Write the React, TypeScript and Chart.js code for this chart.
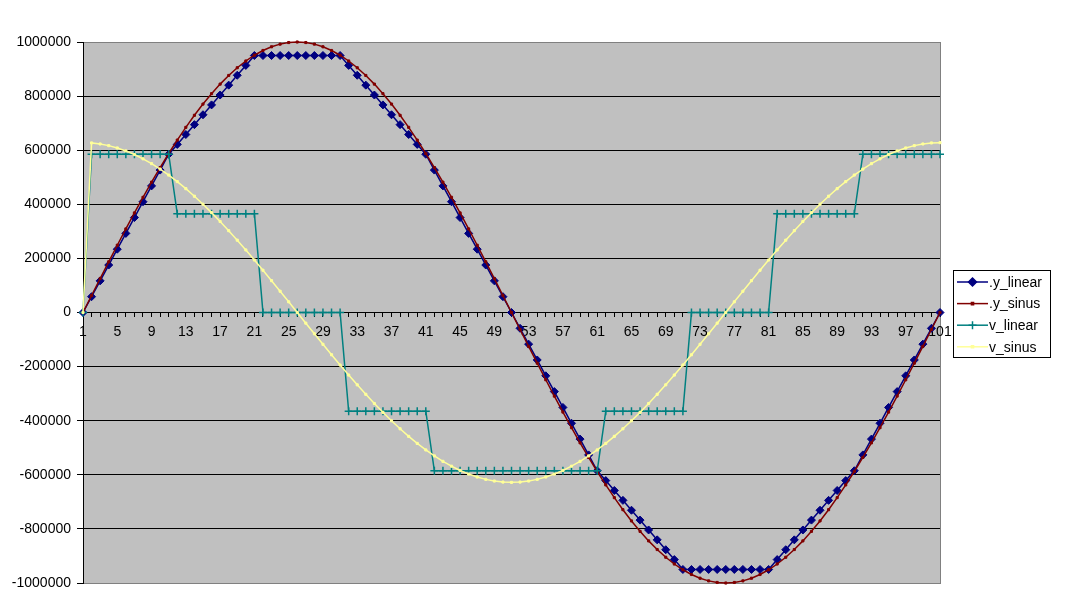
import { useEffect, useRef } from 'react';
import Chart from 'chart.js/auto';
import { drawPoint } from 'chart.js/helpers';

// categories 1..101 (time steps)
const categories = Array.from({ length: 101 }, (_, i) => String(i + 1));

const yLinear = [
  0, 58500, 117000, 175500, 234000, 292500, 351000, 409500, 468000, 526500, 585000,
  621500, 658000, 694500, 731000, 767500, 804000, 840500, 877000, 913500, 950000,
  950000, 950000, 950000, 950000, 950000, 950000, 950000, 950000, 950000, 950000,
  913500, 877000, 840500, 804000, 767500, 731000, 694500, 658000, 621500, 585000,
  526500, 468000, 409500, 351000, 292500, 234000, 175500, 117000, 58500, 0,
  -58500, -117000, -175500, -234000, -292500, -351000, -409500, -468000, -526500, -585000,
  -621500, -658000, -694500, -731000, -767500, -804000, -840500, -877000, -913500, -950000,
  -950000, -950000, -950000, -950000, -950000, -950000, -950000, -950000, -950000, -950000,
  -913500, -877000, -840500, -804000, -767500, -731000, -694500, -658000, -621500, -585000,
  -526500, -468000, -409500, -351000, -292500, -234000, -175500, -117000, -58500, 0,
];

const ySinus = [
  0, 62800, 125300, 187400, 248700, 309000, 368100, 425800, 481800, 535800, 587800,
  637400, 684500, 729000, 770500, 809000, 844300, 876300, 904800, 929800, 951100,
  968600, 982300, 992100, 998000, 1000000,
  998000, 992100, 982300, 968600, 951100, 929800, 904800, 876300, 844300, 809000,
  770500, 729000, 684500, 637400, 587800, 535800, 481800, 425800, 368100, 309000,
  248700, 187400, 125300, 62800, 0,
  -62800, -125300, -187400, -248700, -309000, -368100, -425800, -481800, -535800, -587800,
  -637400, -684500, -729000, -770500, -809000, -844300, -876300, -904800, -929800, -951100,
  -968600, -982300, -992100, -998000, -1000000,
  -998000, -992100, -982300, -968600, -951100, -929800, -904800, -876300, -844300, -809000,
  -770500, -729000, -684500, -637400, -587800, -535800, -481800, -425800, -368100, -309000,
  -248700, -187400, -125300, -62800, 0,
];

const vLinear = [
  0,
  585000, 585000, 585000, 585000, 585000, 585000, 585000, 585000, 585000, 585000,
  365000, 365000, 365000, 365000, 365000, 365000, 365000, 365000, 365000, 365000,
  0, 0, 0, 0, 0, 0, 0, 0, 0, 0,
  -365000, -365000, -365000, -365000, -365000, -365000, -365000, -365000, -365000, -365000,
  -585000, -585000, -585000, -585000, -585000, -585000, -585000, -585000, -585000, -585000,
  -585000, -585000, -585000, -585000, -585000, -585000, -585000, -585000, -585000, -585000,
  -365000, -365000, -365000, -365000, -365000, -365000, -365000, -365000, -365000, -365000,
  0, 0, 0, 0, 0, 0, 0, 0, 0, 0,
  365000, 365000, 365000, 365000, 365000, 365000, 365000, 365000, 365000, 365000,
  585000, 585000, 585000, 585000, 585000, 585000, 585000, 585000, 585000, 585000,
];

const vSinus = [
  0,
  626800, 623000, 616900, 608300, 597300, 583900, 568200, 550300, 530200, 508100,
  483900, 457800, 429900, 400300, 369100, 336500, 302500, 267400, 231200, 194100,
  156200, 117700, 78700, 39400, 0,
  -39400, -78700, -117700, -156200, -194100, -231200, -267400, -302500, -336500, -369100,
  -400300, -429900, -457800, -483900, -508100, -530200, -550300, -568200, -583900, -597300,
  -608300, -616900, -623000, -626800, -628000,
  -626800, -623000, -616900, -608300, -597300, -583900, -568200, -550300, -530200, -508100,
  -483900, -457800, -429900, -400300, -369100, -336500, -302500, -267400, -231200, -194100,
  -156200, -117700, -78700, -39400, 0,
  39400, 78700, 117700, 156200, 194100, 231200, 267400, 302500, 336500, 369100,
  400300, 429900, 457800, 483900, 508100, 530200, 550300, 568200, 583900, 597300,
  608300, 616900, 623000, 626800, 628000,
];

const seriesNames = ['.y_linear', '.y_sinus', 'v_linear', 'v_sinus'];
const seriesColors = ['#000080', '#800000', '#008080', '#ffff99'];
const seriesMarkers = [
  { style: 'rectRot', radius: 4 },
  { style: 'rect', radius: 1.5 },
  { style: 'cross', radius: 4 },
  { style: 'rect', radius: 1.5 },
];

const yMin = -1000000;
const yMax = 1000000;
const yStep = 200000;

const FONT = "'Liberation Sans', Arial, sans-serif";

// grey plot area, frame and the old-style legend box
const excelLook = {
  id: 'excelLook',
  beforeDraw(chart: any) {
    const { ctx, chartArea: a } = chart;
    ctx.save();
    ctx.fillStyle = '#fff';
    ctx.fillRect(0, 0, chart.width, chart.height);
    ctx.fillStyle = '#c0c0c0';
    ctx.fillRect(a.left, a.top, a.right - a.left, a.bottom - a.top);
    ctx.strokeStyle = '#808080';
    ctx.lineWidth = 1;
    const l = Math.round(a.left) + 0.5;
    const t = Math.round(a.top) + 0.5;
    const r = Math.round(a.right) + 0.5;
    const b = Math.round(a.bottom) + 0.5;
    ctx.strokeRect(l, t, r - l, b - t);
    ctx.restore();
  },
  afterDraw(chart: any) {
    const ctx = chart.ctx;
    const lx = 953;
    const ly = 270;
    const lw = 97;
    const lh = 87;
    ctx.save();
    ctx.fillStyle = '#fff';
    ctx.fillRect(lx, ly, lw, lh);
    ctx.strokeStyle = '#000';
    ctx.lineWidth = 1;
    ctx.strokeRect(lx + 0.5, ly + 0.5, lw, lh);
    ctx.font = `14px ${FONT}`;
    ctx.textBaseline = 'middle';
    ctx.textAlign = 'left';
    seriesNames.forEach((name, i) => {
      const y = ly + 12 + i * 21.6;
      ctx.strokeStyle = seriesColors[i];
      ctx.fillStyle = seriesColors[i];
      ctx.lineWidth = 1.5;
      ctx.beginPath();
      ctx.moveTo(lx + 4, y);
      ctx.lineTo(lx + 35, y);
      ctx.stroke();
      drawPoint(ctx, {
        pointStyle: seriesMarkers[i].style,
        rotation: 0,
        radius: seriesMarkers[i].radius,
        borderWidth: 1,
      } as any, lx + 19.5, y);
      ctx.fillStyle = '#000';
      ctx.fillText(name, lx + 36, y + 1);
    });
    ctx.restore();
  },
};

export default function App() {
  const chartRef = useRef<HTMLCanvasElement>(null);
  const chartInstance = useRef<Chart | null>(null);

  useEffect(() => {
    if (!chartRef.current) return;
    if (chartInstance.current) {
      chartInstance.current.destroy();
    }
    const ctx = chartRef.current.getContext('2d');
    if (!ctx) return;

    Chart.defaults.font.family = FONT;
    Chart.defaults.font.size = 14;
    Chart.defaults.color = '#000';

    const seriesData = [yLinear, ySinus, vLinear, vSinus];
    const datasets = seriesData.map((d, i) => ({
      label: seriesNames[i],
      data: d,
      borderColor: seriesColors[i],
      backgroundColor: seriesColors[i],
      borderWidth: 1.5,
      pointStyle: seriesMarkers[i].style,
      pointRadius: seriesMarkers[i].radius,
      pointBorderWidth: i === 2 ? 1.5 : 1,
      pointBackgroundColor: seriesColors[i],
      pointBorderColor: seriesColors[i],
      tension: 0,
      clip: false as const,
      order: 4 - i,
    }));

    chartInstance.current = new Chart(ctx, {
      type: 'line',
      data: { labels: categories, datasets },
      plugins: [excelLook],
      options: {
        animation: false,
        responsive: false,
        devicePixelRatio: 1,
        layout: { padding: { top: 42, right: 140, bottom: 27, left: 0 } },
        plugins: {
          legend: { display: false },
          tooltip: { enabled: false },
        },
        scales: {
          x: {
            type: 'category',
            position: { y: 0 } as any,
            offset: false,
            grid: {
              display: true,
              drawOnChartArea: false,
              drawTicks: true,
              tickLength: 4,
              tickColor: '#000',
            },
            border: { display: true, color: '#000', width: 1 },
            ticks: {
              autoSkip: false,
              maxRotation: 0,
              minRotation: 0,
              padding: 7,
              font: { size: 14 },
              callback: (_v: any, idx: number) => (idx % 4 === 0 ? categories[idx] : ''),
            },
          },
          y: {
            min: yMin,
            max: yMax,
            afterFit: (scale: any) => {
              scale.width = 83;
            },
            grid: {
              color: (c: any) =>
                c.tick && (c.tick.value === yMin || c.tick.value === yMax) ? 'rgba(0,0,0,0)' : '#000',
              lineWidth: 1,
              drawTicks: true,
              tickLength: 6,
              tickColor: '#000',
            },
            border: { display: true, color: '#000', width: 1 },
            ticks: {
              stepSize: yStep,
              padding: 6,
              font: { size: 14 },
              callback: (v: any) => String(v),
            },
          },
        },
      },
    });

    return () => {
      if (chartInstance.current) {
        chartInstance.current.destroy();
        chartInstance.current = null;
      }
    };
  }, []);

  return (
    <div style={{ position: 'absolute', left: 0, top: 0, width: 1080, height: 610, background: '#fff' }}>
      <canvas ref={chartRef} width={1080} height={610} />
    </div>
  );
}
